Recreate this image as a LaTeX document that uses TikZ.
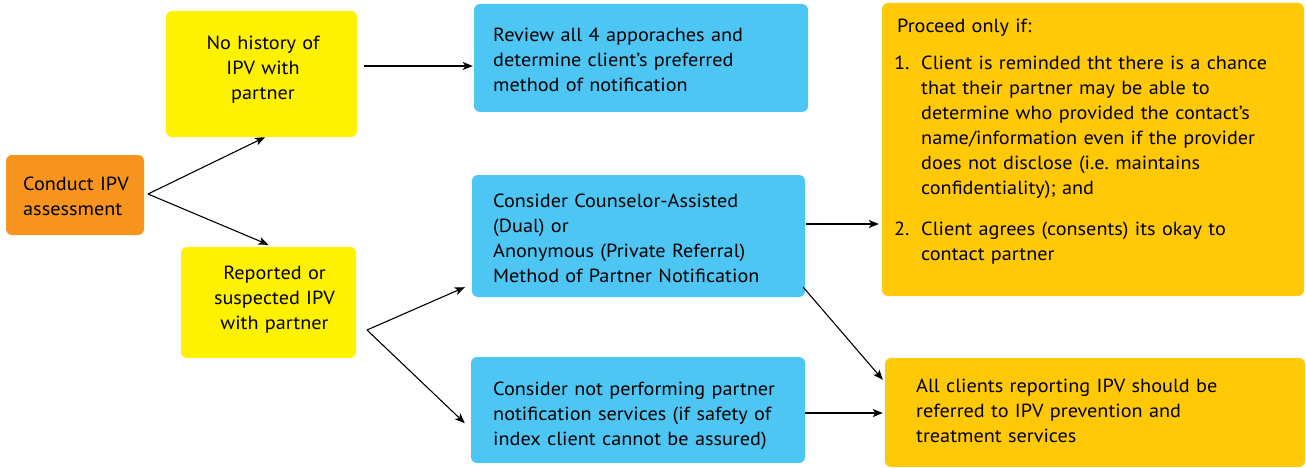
\documentclass[tikz,border=0pt]{standalone}
\usepackage{fontspec}
\setmainfont[FakeStretch=1.065]{PT Sans}
\usetikzlibrary{arrows.meta}
\frenchspacing
\definecolor{cOrange}{HTML}{F7941D}
\definecolor{cYellow}{HTML}{FFF200}
\definecolor{cBlue}{HTML}{4DC6F4}
\definecolor{cGold}{HTML}{FFC907}
\tikzset{
  box/.style={draw=none, rounded corners=6pt, inner sep=0pt},
  txt/.style={inner sep=0pt, anchor=north west, align=left, text width=400pt,
    font=\fontsize{19}{25}\selectfont},
  ctxt/.style={inner sep=0pt, anchor=north, align=center, text width=200pt,
    font=\fontsize{19}{25}\selectfont},
  arr/.style={line width=1.1pt, -{Stealth[length=10pt,width=8pt,inset=2.5pt]}},
}
\begin{document}
\begin{tikzpicture}[x=1pt,y=-1pt]
\useasboundingbox (0,0) rectangle (1306,468);
% boxes
\node[box, fill=cOrange, minimum width=138, minimum height=80] (o) at (75,195) {};
\node[box, fill=cYellow, minimum width=191, minimum height=126] (y1) at (261.5,74) {};
\node[box, fill=cYellow, minimum width=175, minimum height=111] (y2) at (268.5,302.5) {};
\node[box, fill=cBlue, minimum width=334, minimum height=108] (b1) at (641,58) {};
\node[box, fill=cBlue, minimum width=333, minimum height=122] (b2) at (638.5,236) {};
\node[box, fill=cBlue, minimum width=334, minimum height=106] (b3) at (638,410) {};
\node[box, fill=cGold, minimum width=422, minimum height=293] (g1) at (1093,149.5) {};
\node[box, fill=cGold, minimum width=420, minimum height=109] (g2) at (1095,412.5) {};
% texts (top = baseline - 17.5)
\node[txt] (to) at (23,172.5) {\strut Conduct IPV\\assessment};
\node[ctxt] (ty1) at (263,31.5) {\strut No history of\\IPV with\\partner};
\node[ctxt] (ty2) at (274.5,261.5) {\strut Reported or\\suspected IPV\\with partner};
\node[txt] (tb1) at (493,23.5) {\strut Review all 4 apporaches and\\determine client’s preferred\\method of notification};
\node[txt] (tb2) at (493,189.5) {\strut Consider Counselor-Assisted\\(Dual) or\\Anonymous (Private Referral)\\Method of Partner Notification};
\node[txt] (tb3) at (493,377.5) {\strut Consider not performing partner\\notification services (if safety of\\index client cannot be assured)};
\node[txt] (tg0) at (897,14.5) {\strut Proceed only if:};
\node[txt] (tn1) at (894,51.5) {\strut 1.};
\node[txt] (tg1) at (921,51.5) {\strut Client is reminded tht there is a chance\\that their partner may be able to\\determine who provided the contact’s\\name/information even if the provider\\does not disclose (i.e. maintains\\confidentiality); and};
\node[txt] (tn2) at (894,217.5) {\strut 2.};
\node[txt] (tg2) at (921,217.5) {\strut Client agrees (consents) its okay to\\contact partner};
\node[txt] (tg3) at (916,374.5) {\strut All clients reporting IPV should be\\referred to IPV prevention and\\treatment services};
% connectors
\coordinate (s0) at (148,194);
\coordinate (s1) at (364,66);
\coordinate (s2) at (367,330);
\coordinate (s3) at (806,224);
\coordinate (s5) at (805,413);
\draw[arr] (s0) -- ([xshift=3.5pt]y1.south);
\draw[arr] (s0) -- ([shift={(0,-2)}]y2.north);
\draw[arr] (s1) -- ([xshift=-1]s1 -| b1.west);
\draw[arr] (s2) -- ([shift={(-7,-10)}]b2.south west);
\draw[arr] (s2) -- ([shift={(-6,-40)}]b3.south west);
\draw[arr] (s3) -- ([xshift=-3]s3 -| g1.west);
\draw[arr] ([shift={(-2,-10)}]b2.south east) -- ([shift={(-2,22)}]g2.north west);
\draw[arr] (s5) -- ([xshift=-2]s5 -| g2.west);
\end{tikzpicture}
\end{document}
